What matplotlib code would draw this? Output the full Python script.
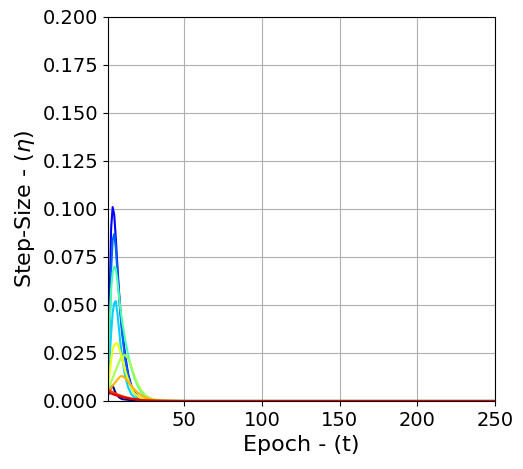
import matplotlib

matplotlib.use("Agg")
import matplotlib.pyplot as plt
import numpy as np

epochs = [1, 2, 3, 4, 5, 6, 7, 8, 9, 10, 12, 14, 16, 18, 20, 22, 25, 28, 30, 35, 40, 50, 100, 150, 200, 250]

eta_0 = [0.003, 0.005, 0.007, 0.008, 0.006, 0.004, 0.003, 0.002, 0.0015, 0.001, 0.0008, 0.0006, 0.0005,
         0.0004, 0.0003, 0.0002, 0.0001, 0.0001, 0.0, 0.0, 0.0, 0.0, 0.0, 0.0, 0.0, 0.0]
eta_1 = [0.012, 0.05, 0.09, 0.101, 0.097, 0.085, 0.071, 0.058, 0.047, 0.038, 0.024, 0.014, 0.008,
         0.0045, 0.0025, 0.0014, 0.0006, 0.0003, 0.0002, 0.0001, 0.0, 0.0, 0.0, 0.0, 0.0, 0.0]
eta_2 = [0.01, 0.035, 0.068, 0.084, 0.087, 0.08, 0.068, 0.056, 0.045, 0.036, 0.022, 0.013, 0.007,
         0.004, 0.002, 0.001, 0.0005, 0.0002, 0.0001, 0.0, 0.0, 0.0, 0.0, 0.0, 0.0, 0.0]
eta_3 = [0.012, 0.022, 0.035, 0.046, 0.051, 0.052, 0.046, 0.038, 0.03, 0.023, 0.013, 0.007, 0.0035,
         0.0018, 0.0009, 0.0004, 0.0002, 0.0001, 0.0, 0.0, 0.0, 0.0, 0.0, 0.0, 0.0, 0.0]
eta_4 = [0.02, 0.04, 0.058, 0.067, 0.07, 0.069, 0.063, 0.055, 0.048, 0.042, 0.032, 0.024, 0.017,
         0.012, 0.008, 0.005, 0.0025, 0.0012, 0.0007, 0.0002, 0.0001, 0.0, 0.0, 0.0, 0.0, 0.0]
eta_5 = [0.006, 0.008, 0.01, 0.012, 0.014, 0.016, 0.018, 0.02, 0.022, 0.023, 0.024, 0.022, 0.018,
         0.013, 0.009, 0.006, 0.003, 0.0015, 0.0009, 0.0003, 0.0001, 0.0, 0.0, 0.0, 0.0, 0.0]
eta_6 = [0.008, 0.014, 0.021, 0.027, 0.029, 0.03, 0.03, 0.028, 0.025, 0.022, 0.016, 0.011, 0.007,
         0.004, 0.0025, 0.0015, 0.0007, 0.0003, 0.0002, 0.0001, 0.0, 0.0, 0.0, 0.0, 0.0, 0.0]
eta_7 = [0.005, 0.006, 0.007, 0.008, 0.009, 0.01, 0.011, 0.012, 0.0128, 0.013, 0.012, 0.01, 0.008,
         0.006, 0.0045, 0.0032, 0.0018, 0.001, 0.0006, 0.0002, 0.0001, 0.0, 0.0, 0.0, 0.0, 0.0]
eta_8 = [0.006, 0.0055, 0.005, 0.0046, 0.0042, 0.0038, 0.0035, 0.0032, 0.0029, 0.0026, 0.0021, 0.0017,
         0.0013, 0.001, 0.0008, 0.0006, 0.0004, 0.0003, 0.0002, 0.0001, 0.00005, 0.0, 0.0, 0.0, 0.0, 0.0]
eta_9 = [0.0045, 0.0042, 0.0039, 0.0036, 0.0033, 0.003, 0.0028, 0.0025, 0.0023, 0.0021, 0.0017, 0.0014,
         0.0011, 0.0009, 0.0007, 0.0005, 0.0003, 0.0002, 0.00015, 0.0001, 0.00005, 0.0, 0.0, 0.0, 0.0, 0.0]

series = [eta_0, eta_1, eta_2, eta_3, eta_4, eta_5, eta_6, eta_7, eta_8, eta_9]
# positions on the jet colormap, picked to match the reference hues
cmap_pos = [0.0, 0.11, 0.22, 0.33, 0.44, 0.55, 0.64, 0.72, 0.85, 0.92]
colors = plt.cm.jet(cmap_pos)

fig, ax = plt.subplots(figsize=(5.23, 4.69), dpi=100)
for values, color in zip(series, colors):
    ax.plot(epochs, values, color=color, linewidth=1.5)

ax.set_xlim(1, 250)
ax.set_ylim(0, 0.2)
ax.set_xticks([50, 100, 150, 200, 250])
ax.set_yticks(np.arange(0, 0.2001, 0.025))
ax.tick_params(labelsize=14)
ax.set_xlabel("Epoch - (t)", fontsize=16)
ax.set_ylabel(r"Step-Size - ($\eta$)", fontsize=16)
ax.grid(True)

fig.subplots_adjust(left=0.2065, right=0.9465, bottom=0.145, top=0.9638)
fig.savefig("out.png", facecolor="white")
